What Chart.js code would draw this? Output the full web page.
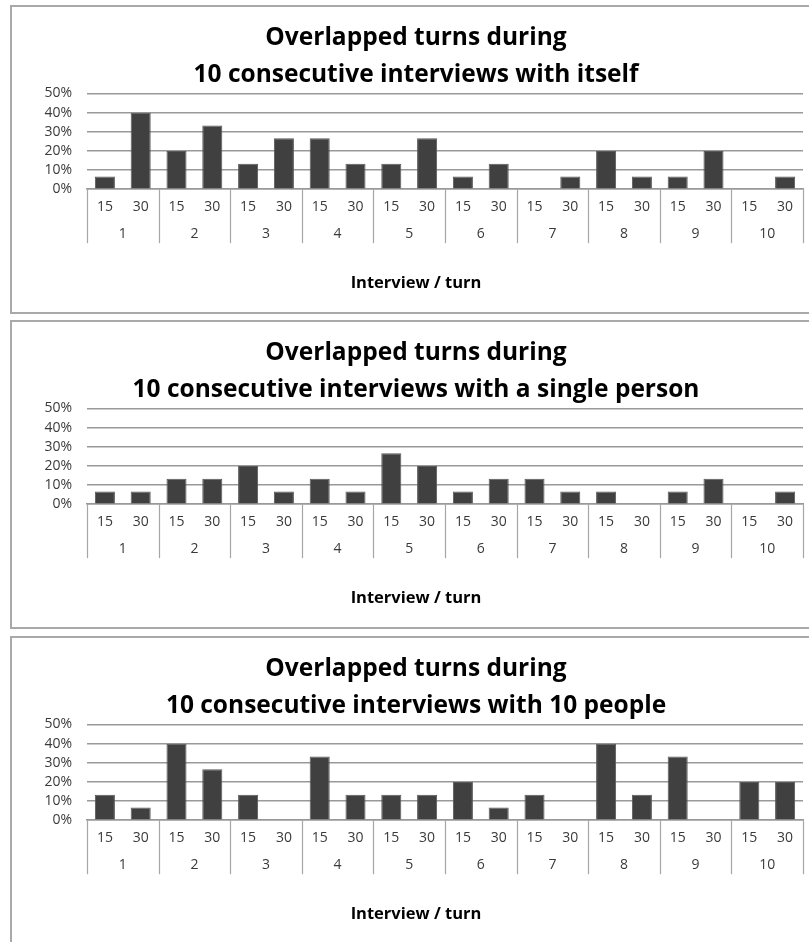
<!DOCTYPE html>
<html>
<head>
<meta charset="utf-8">
<script src="https://cdn.jsdelivr.net/npm/chart.js@4/dist/chart.umd.min.js"></script>
<style>
  html, body { margin: 0; padding: 0; background: #fff; overflow: hidden; }
  body { width: 809px; height: 942px; position: relative; }
  .panel { position: absolute; left: 10px; width: 812px; height: 309px; box-sizing: border-box; border: 2px solid #a9a9a9; background: #fff; }
  .panel canvas { display: block; }
</style>
</head>
<body>
<div class="panel" style="top:5px"><canvas id="c1" width="808" height="305"></canvas></div>
<div class="panel" style="top:320px"><canvas id="c2" width="808" height="305"></canvas></div>
<div class="panel" style="top:636px"><canvas id="c3" width="808" height="305"></canvas></div>
<script>
// Interviews (outer category) and the two turn checkpoints (inner category)
const interviews = ['1', '2', '3', '4', '5', '6', '7', '8', '9', '10'];
const turns = ['15', '30'];
const yTicks = [0, 10, 20, 30, 40, 50];

// Share of overlapped turns (%), ordered interview 1 turn 15, interview 1 turn 30, ...
const withItself = [6.67, 40, 20, 33.33, 13.33, 26.67, 26.67, 13.33, 13.33, 26.67,
                    6.67, 13.33, 0, 6.67, 20, 6.67, 6.67, 20, 0, 6.67];
const withSinglePerson = [6.67, 6.67, 13.33, 13.33, 20, 6.67, 13.33, 6.67, 26.67, 20,
                          6.67, 13.33, 13.33, 6.67, 6.67, 0, 6.67, 13.33, 0, 6.67];
const withTenPeople = [13.33, 6.67, 40, 26.67, 13.33, 0, 33.33, 13.33, 13.33, 13.33,
                       20, 6.67, 13.33, 0, 40, 13.33, 33.33, 0, 20, 20];

const titles = [
  ['Overlapped turns during', '10 consecutive interviews with itself'],
  ['Overlapped turns during', '10 consecutive interviews with a single person'],
  ['Overlapped turns during', '10 consecutive interviews with 10 people']
];
const axisTitle = 'Interview / turn';

const FONT = '"Open Sans", "Liberation Sans", sans-serif';
const labels = [];
interviews.forEach(() => turns.forEach(t => labels.push(t)));

// Draws the outer category row (interview numbers) with group separators
const groupRow = {
  id: 'groupRow',
  afterDraw(chart) {
    const x = chart.scales.x;
    const area = chart.chartArea;
    const ctx = chart.ctx;
    const n = turns.length;
    const edges = [];
    for (let g = 0; g <= interviews.length; g++) {
      if (g === 0) edges.push(area.left);
      else if (g === interviews.length) edges.push(area.right);
      else edges.push((x.getPixelForValue(g * n - 1) + x.getPixelForValue(g * n)) / 2);
    }
    ctx.save();
    ctx.strokeStyle = '#a6a6a6';
    ctx.lineWidth = 1.2;
    edges.forEach(e => {
      const xe = Math.round(e) + 0.5;
      ctx.beginPath();
      ctx.moveTo(xe, area.bottom);
      ctx.lineTo(xe, area.bottom + 54);
      ctx.stroke();
    });
    ctx.fillStyle = '#3a3a3a';
    ctx.font = '14px ' + FONT;
    ctx.textAlign = 'center';
    ctx.textBaseline = 'middle';
    interviews.forEach((name, g) => {
      ctx.fillText(name, (edges[g] + edges[g + 1]) / 2, area.bottom + 45);
    });
    ctx.restore();
  }
};

function makeChart(id, values, title) {
  return new Chart(document.getElementById(id), {
    type: 'bar',
    data: {
      labels: labels,
      datasets: [{
        data: values,
        backgroundColor: '#404040',
        borderColor: '#595959',
        borderWidth: 1,
        barPercentage: 0.56,
        categoryPercentage: 1
      }]
    },
    options: {
      responsive: false,
      animation: false,
      layout: { padding: 0 },
      plugins: {
        legend: { display: false },
        tooltip: { enabled: false },
        title: {
          display: true,
          text: title,
          color: '#000',
          font: { family: FONT, size: 24.5, weight: 'bold', lineHeight: 1.5 },
          padding: { top: 13, bottom: 0 }
        },
        subtitle: {
          display: true,
          position: 'bottom',
          text: axisTitle,
          color: '#000',
          font: { family: FONT, size: 16.5, weight: 'bold', lineHeight: 1.2 },
          padding: { top: 0, bottom: 19 }
        }
      },
      scales: {
        x: {
          grid: { display: false },
          border: { display: true, color: '#999999', width: 1.5 },
          ticks: { color: '#3a3a3a', font: { family: FONT, size: 14 }, padding: 1, maxRotation: 0, autoSkip: false },
          afterFit(scale) { scale.height = 84; }
        },
        y: {
          min: 0,
          max: 50,
          afterBuildTicks(scale) { scale.ticks = yTicks.map(v => ({ value: v })); },
          grid: { color: '#999999', lineWidth: 1.5, drawTicks: false },
          border: { display: false },
          ticks: { color: '#3a3a3a', font: { family: FONT, size: 14 }, padding: 15, autoSkip: false, callback: v => v + '%' },
          afterFit(scale) { scale.width = 75; }
        },
        // empty right-hand margin of the plot
        yRight: {
          position: 'right',
          display: true,
          grid: { display: false, drawTicks: false },
          border: { display: false },
          ticks: { display: false },
          afterFit(scale) { scale.width = 17; }
        }
      }
    },
    plugins: [groupRow]
  });
}

makeChart('c1', withItself, titles[0]);
makeChart('c2', withSinglePerson, titles[1]);
makeChart('c3', withTenPeople, titles[2]);
</script>
</body>
</html>
